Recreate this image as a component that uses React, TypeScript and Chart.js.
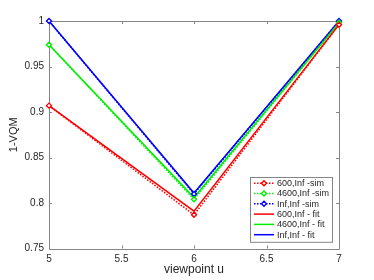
import React, { useEffect, useRef } from "react";
import { Chart, registerables } from "chart.js";

Chart.register(...registerables);

const viewpoints = [5, 6, 7];
const sim600 = [0.907, 0.787, 0.996];
const sim4600 = [0.974, 0.804, 0.998];
const simInf = [1.0, 0.81, 1.0];
const fit600 = [0.907, 0.791, 0.996];
const fit4600 = [0.974, 0.806, 0.998];
const fitInf = [1.0, 0.811, 1.0];
const seriesLabels = [
  "600,Inf -sim",
  "4600,Inf -sim",
  "Inf,Inf -sim",
  "600,Inf - fit",
  "4600,Inf - fit",
  "Inf,Inf - fit",
];
const xTicks = [5, 5.5, 6, 6.5, 7];
const yTicks = [0.75, 0.8, 0.85, 0.9, 0.95, 1];

const FONT = "'Liberation Sans', Arial, Helvetica, sans-serif";
const AXIS = "#262626";
const FRAME = "#858585";

const framePlugin = {
  id: "frame",
  beforeDatasetsDraw(chart: any) {
    const { ctx, chartArea: a, scales } = chart;
    ctx.save();
    ctx.strokeStyle = FRAME;
    ctx.lineWidth = 1;
    ctx.beginPath();
    ctx.rect(Math.round(a.left) + 0.5, Math.round(a.top) + 0.5, Math.round(a.right - a.left), Math.round(a.bottom - a.top));
    ctx.stroke();
    const L = 3;
    ctx.beginPath();
    for (const v of xTicks) {
      const x = Math.round(scales.x.getPixelForValue(v)) + 0.5;
      ctx.moveTo(x, a.bottom);
      ctx.lineTo(x, a.bottom - L);
      ctx.moveTo(x, a.top);
      ctx.lineTo(x, a.top + L);
    }
    for (const v of yTicks) {
      const y = Math.round(scales.y.getPixelForValue(v)) + 0.5;
      ctx.moveTo(a.left, y);
      ctx.lineTo(a.left + L, y);
      ctx.moveTo(a.right, y);
      ctx.lineTo(a.right - L, y);
    }
    ctx.stroke();
    ctx.restore();
  },
};

const legendPlugin = {
  id: "boxLegend",
  afterDraw(chart: any) {
    const { ctx, chartArea: a } = chart;
    const ds = chart.data.datasets;
    const w = 82;
    const rowH = 10.3;
    const h = rowH * ds.length + 3;
    const x0 = a.right - 7 - w;
    const y0 = a.bottom - 7 - h;
    ctx.save();
    ctx.fillStyle = "#ffffff";
    ctx.fillRect(x0, y0, w, h);
    ctx.strokeStyle = FRAME;
    ctx.lineWidth = 1;
    ctx.strokeRect(Math.round(x0) + 0.5, Math.round(y0) + 0.5, w, h);
    ctx.font = `9px ${FONT}`;
    ctx.textBaseline = "middle";
    ds.forEach((d: any, i: number) => {
      const y = y0 + 6.5 + i * rowH;
      const lx0 = x0 + 4;
      const lx1 = x0 + 24;
      ctx.strokeStyle = d.borderColor;
      ctx.lineWidth = d.borderWidth;
      ctx.setLineDash(d.borderDash || []);
      ctx.beginPath();
      ctx.moveTo(lx0, y);
      ctx.lineTo(lx1, y);
      ctx.stroke();
      ctx.setLineDash([]);
      if (d.pointRadius > 0) {
        const cx = (lx0 + lx1) / 2;
        const r = 2.5;
        ctx.fillStyle = "#ffffff";
        ctx.beginPath();
        ctx.moveTo(cx, y - r);
        ctx.lineTo(cx + r, y);
        ctx.lineTo(cx, y + r);
        ctx.lineTo(cx - r, y);
        ctx.closePath();
        ctx.fill();
        ctx.lineWidth = 1.4;
        ctx.stroke();
      }
      ctx.fillStyle = AXIS;
      ctx.fillText(d.label, x0 + 27, y + 0.5);
    });
    ctx.restore();
  },
};

export default function App() {
  const ref = useRef<HTMLCanvasElement>(null);
  useEffect(() => {
    if (!ref.current) return;
    const colors = ["#ff0000", "#00ee00", "#0000ff"];
    const sims = [sim600, sim4600, simInf];
    const fits = [fit600, fit4600, fitInf];
    const datasets: any[] = [];
    sims.forEach((s, i) => {
      datasets.push({
        label: seriesLabels[i],
        data: viewpoints.map((x, j) => ({ x, y: s[j] })),
        borderColor: colors[i],
        borderWidth: 1.6,
        borderDash: [1.5, 1.5],
        pointStyle: "rectRot",
        pointRadius: 2.5,
        pointBorderWidth: 1.4,
        pointBackgroundColor: "#ffffff",
        pointBorderColor: colors[i],
        tension: 0,
        clip: false,
      });
    });
    fits.forEach((s, i) => {
      datasets.push({
        label: seriesLabels[i + 3],
        data: viewpoints.map((x, j) => ({ x, y: s[j] })),
        borderColor: colors[i],
        borderWidth: 1.5,
        pointRadius: 0,
        tension: 0,
        clip: false,
      });
    });
    const chart = new Chart(ref.current, {
      type: "line",
      data: { datasets },
      options: {
        animation: false,
        responsive: false,
        devicePixelRatio: 1,
        layout: { padding: { top: 21, right: 35, left: 0, bottom: 0 } },
        plugins: { legend: { display: false }, tooltip: { enabled: false } },
        scales: {
          x: {
            type: "linear",
            min: 5,
            max: 7,
            afterFit(s: any) { s.height = 31.5; },
            afterBuildTicks(s: any) { s.ticks = xTicks.map((v) => ({ value: v })); },
            grid: { display: false, drawTicks: false },
            border: { display: false },
            ticks: { color: AXIS, font: { family: FONT, size: 10 }, padding: 5, maxRotation: 0, callback: (v: any) => String(v) },
            title: { display: true, text: "viewpoint u", color: AXIS, font: { family: FONT, size: 12 }, padding: { top: 0, bottom: 3 } },
          },
          y: {
            type: "linear",
            min: 0.75,
            max: 1,
            afterFit(s: any) { s.width = 49; },
            afterBuildTicks(s: any) { s.ticks = yTicks.map((v) => ({ value: v })); },
            grid: { display: false, drawTicks: false },
            border: { display: false },
            ticks: { color: AXIS, font: { family: FONT, size: 10 }, padding: 5, callback: (v: any) => String(Math.round(v * 100) / 100) },
            title: { display: true, text: "1-VQM", color: AXIS, font: { family: FONT, size: 11 }, padding: { top: 7, bottom: 0 } },
          },
        },
      },
      plugins: [framePlugin, legendPlugin],
    });
    return () => chart.destroy();
  }, []);
  return (
    <div style={{ position: "absolute", left: 0, top: 0, width: 374, height: 280, background: "#fff" }}>
      <canvas ref={ref} width={374} height={280} style={{ width: 374, height: 280 }} />
    </div>
  );
}
